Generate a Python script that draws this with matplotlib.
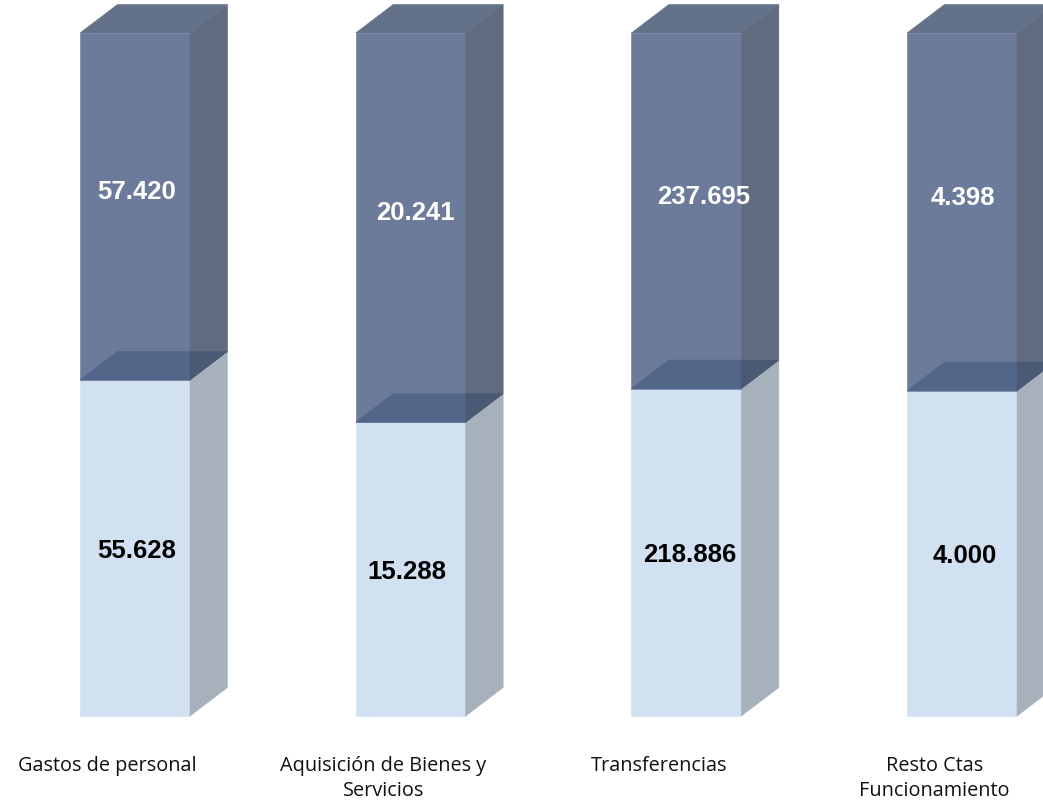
import matplotlib
matplotlib.use("Agg")
import matplotlib.pyplot as plt
from matplotlib.patches import Polygon, Rectangle

categories = ["Gastos de personal", "Aquisición de Bienes y\nServicios",
              "Transferencias", "Resto Ctas\nFuncionamiento"]
serie_inferior = [55628, 15288, 218886, 4000]
serie_superior = [57420, 20241, 237695, 4398]
etiq_inferior = ["55.628", "15.288", "218.886", "4.000"]
etiq_superior = ["57.420", "20.241", "237.695", "4.398"]

# style / geometry
W_PX, H_PX = 1043, 802
fig = plt.figure(figsize=(W_PX / 100, H_PX / 100), dpi=100)
ax = fig.add_axes([0, 0, 1, 1])
sx = 275.67            # px per category unit
sy = 683.0             # px per 100%
x0_px, y0_px = 135.0, 86.0
ax.set_xlim(-x0_px / sx, (W_PX - x0_px) / sx)
ax.set_ylim(-y0_px / sy, (H_PX - y0_px) / sy)
ax.axis("off")

w = 110 / sx
dx = 37.5 / sx
dy = 28.5 / sy

c_front_top = "#6b7b99"
c_side_top = "#606b80"
c_cap_top = "#637189"
c_front_bot = "#d2e1f1"
c_side_bot = "#a6b1bb"
c_split = "#52668a"
c_split_side = "#4b5a74"

top_dx_px = [2, 5, 17, 1]
bot_dx_px = [2, -4, 3, 3]


def face(patch_cls, *args, color):
    return patch_cls(*args, fc=color, ec=color, lw=0.4)


for i, (lo, hi) in enumerate(zip(serie_inferior, serie_superior)):
    f = lo / (lo + hi)
    x0, x1 = i - w / 2, i + w / 2
    ax.add_patch(face(Rectangle, (x0, 0), w, f, color=c_front_bot))
    ax.add_patch(face(Polygon, [(x1, 0), (x1 + dx, dy), (x1 + dx, f + dy), (x1, f)],
                      color=c_side_bot))
    ax.add_patch(face(Rectangle, (x0, f), w, 1 - f, color=c_front_top))
    ax.add_patch(face(Polygon, [(x1, f), (x1 + dx, f + dy), (x1 + dx, 1 + dy), (x1, 1)],
                      color=c_side_top))
    ax.add_patch(face(Polygon, [(x0, 1), (x0 + dx, 1 + dy), (x1 + dx, 1 + dy), (x1, 1)],
                      color=c_cap_top))
    ax.add_patch(face(Polygon, [(x0, f), (x0 + dx, f + dy), (x1, f + dy), (x1, f)],
                      color=c_split))
    ax.add_patch(face(Polygon, [(x1, f), (x1 + dx, f + dy), (x1, f + dy)],
                      color=c_split_side))

    ax.text(i + top_dx_px[i] / sx, (f + 1 + dy) / 2, etiq_superior[i],
            ha="center", va="center", color="white", fontsize=18.5,
            fontweight="bold", family="Liberation Sans")
    ax.text(i + bot_dx_px[i] / sx, f / 2 - 3 / sy, etiq_inferior[i],
            ha="center", va="center", color="black", fontsize=18.5,
            fontweight="bold", family="Liberation Sans")

    ax.text(i - 27.5 / sx, -40 / sy, categories[i], ha="center", va="top",
            fontsize=14.3, family="Open Sans", color="#111111", linespacing=1.3)

fig.savefig("out.png", dpi=100, facecolor="white")
